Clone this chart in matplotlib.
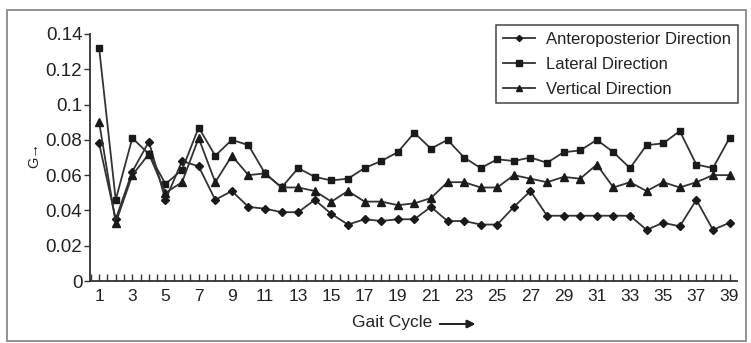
import numpy as np
import matplotlib
matplotlib.use("Agg")
import matplotlib.pyplot as plt
from matplotlib.patches import Rectangle
from matplotlib.ticker import MultipleLocator

plt.rcParams['font.family'] = ['Liberation Sans', 'DejaVu Sans']

# gait cycle numbers and G values per direction
cycles = list(range(1, 40))
anteroposterior = [0.078, 0.035, 0.062, 0.079, 0.046, 0.068, 0.065, 0.046, 0.051, 0.042,
                   0.041, 0.039, 0.039, 0.046, 0.038, 0.032, 0.035, 0.034, 0.035, 0.035,
                   0.042, 0.034, 0.034, 0.032, 0.032, 0.042, 0.051, 0.037, 0.037, 0.037,
                   0.037, 0.037, 0.037, 0.029, 0.033, 0.031, 0.046, 0.029, 0.033]
lateral = [0.132, 0.046, 0.081, 0.072, 0.055, 0.063, 0.087, 0.071, 0.080, 0.077,
           0.061, 0.053, 0.064, 0.059, 0.057, 0.058, 0.064, 0.068, 0.073, 0.084,
           0.075, 0.080, 0.070, 0.064, 0.069, 0.068, 0.070, 0.067, 0.073, 0.074,
           0.080, 0.073, 0.064, 0.077, 0.078, 0.085, 0.066, 0.064, 0.081]
vertical = [0.090, 0.033, 0.060, 0.072, 0.050, 0.056, 0.081, 0.056, 0.071, 0.060,
            0.061, 0.053, 0.053, 0.051, 0.045, 0.051, 0.045, 0.045, 0.043, 0.044,
            0.047, 0.056, 0.056, 0.053, 0.053, 0.060, 0.058, 0.056, 0.059, 0.058,
            0.066, 0.053, 0.056, 0.051, 0.056, 0.053, 0.056, 0.060, 0.060]
y_ticks = [0, 0.02, 0.04, 0.06, 0.08, 0.1, 0.12, 0.14]
y_labels = ["0", "0.02", "0.04", "0.06", "0.08", "0.1", "0.12", "0.14"]

W, H = 751, 343
fig = plt.figure(figsize=(W / 100, H / 100), dpi=100)
ax = fig.add_axes([90 / W, 1 - 281 / H, (737 - 90) / W, (281 - 34) / H])

line_kw = dict(color="#333333", lw=1.3, markerfacecolor="#1a1a1a",
               markeredgecolor="#1a1a1a")
ax.plot(cycles, anteroposterior, marker="D", ms=4.2, label="Anteroposterior Direction", **line_kw)
ax.plot(cycles, lateral, marker="s", ms=5, label="Lateral Direction", **line_kw)
ax.plot(cycles, vertical, marker="^", ms=5.5, label="Vertical Direction", **line_kw)

ax.set_xlim(0.45, 39.45)
ax.set_ylim(0, 0.14)
ax.set_yticks(y_ticks)
ax.set_yticklabels(y_labels)
ax.set_xticks(cycles[::2])
ax.xaxis.set_minor_locator(MultipleLocator(0.5))

for side in ("top", "right"):
    ax.spines[side].set_visible(False)
for side in ("left", "bottom"):
    ax.spines[side].set_color("#333333")
    ax.spines[side].set_linewidth(1.3)

ax.tick_params(axis="y", direction="out", length=4, width=1, color="#333333",
               labelsize=13.5, labelcolor="#222222", pad=1.5)
ax.tick_params(axis="x", which="both", direction="in", length=5, width=1,
               color="#333333", labelsize=12.5, labelcolor="#222222", pad=6)

leg = ax.legend(loc="upper right", bbox_to_anchor=(738 / W, 1 - 25 / H),
                bbox_transform=fig.transFigure, borderaxespad=0, fontsize=12,
                frameon=True, fancybox=False, framealpha=1, edgecolor="#444444",
                handlelength=1.9, handletextpad=0.7, labelspacing=0.6,
                borderpad=0.4, markerscale=0.75)
leg.get_frame().set_linewidth(1.1)
for t in leg.get_texts():
    t.set_color("#222222")

# axis captions
fig.text(34 / W, 1 - 155 / H, "G\u2192", rotation=90, fontsize=10.5,
         ha="center", va="center", color="#222222")
fig.text(352 / W, 1 - 323 / H, "Gait Cycle", fontsize=12.5, ha="left",
         va="center", color="#222222")
fig.add_artist(plt.annotate("", xy=(478 / W, 1 - 324 / H), xytext=(437 / W, 1 - 324 / H),
                            xycoords=fig.transFigure, textcoords=fig.transFigure,
                            arrowprops=dict(arrowstyle="-|>", color="#222222", lw=1.3,
                                            mutation_scale=12)))

# outer border
fig.add_artist(Rectangle((7 / W, 2 / H), (746 - 7) / W, (333 - 2) / H,
                         transform=fig.transFigure, fill=False,
                         edgecolor="#8a8a8a", lw=1.3))

fig.savefig("out.png", dpi=100)
